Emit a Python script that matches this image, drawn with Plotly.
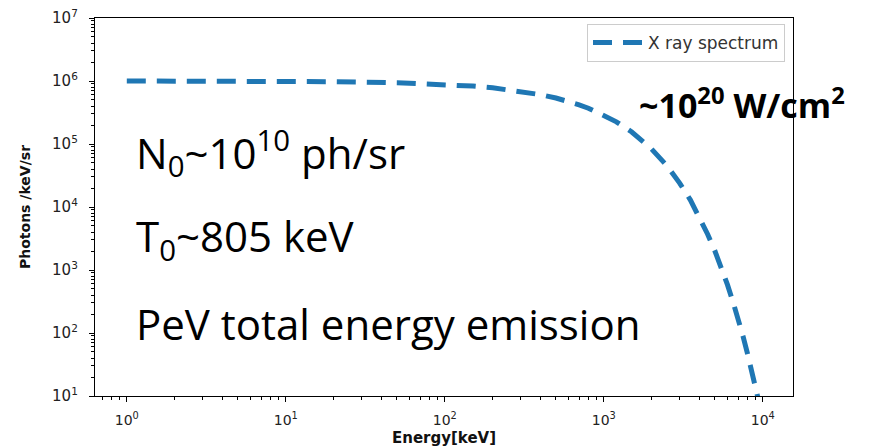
import plotly.graph_objects as go

# Data
energy_kev = [1, 2, 5, 10, 20, 50, 70, 100, 150, 200, 300, 400, 500, 600, 700, 800,
              1000, 1200, 1500, 2000, 2500, 3000, 3500, 4000, 4500, 5000, 5500,
              6000, 6500, 7000, 7500, 8000, 8500, 9000, 9300]
photons = [1.0e6, 9.98e5, 9.94e5, 9.88e5, 9.75e5, 9.4e5, 9.17e5, 8.83e5, 8.3e5,
           7.8e5, 6.89e5, 6.08e5, 5.37e5, 4.75e5, 4.19e5, 3.7e5, 2.89e5, 2.25e5,
           1.55e5, 8.3e4, 4.5e4, 2.4e4, 1.3e4, 6.9e3, 3.7e3, 2.0e3, 1.08e3,
           5.8e2, 3.1e2, 1.7e2, 90, 48, 26, 14, 9.6]

x_tickvals = [1, 10, 100, 1000, 10000]
x_ticktext = ["10<sup>0</sup>", "10<sup>1</sup>", "10<sup>2</sup>", "10<sup>3</sup>", "10<sup>4</sup>"]
y_tickvals = [10, 100, 1000, 1e4, 1e5, 1e6, 1e7]
y_ticktext = ["10<sup>1</sup>", "10<sup>2</sup>", "10<sup>3</sup>", "10<sup>4</sup>",
              "10<sup>5</sup>", "10<sup>6</sup>", "10<sup>7</sup>"]

fig = go.Figure()
fig.add_trace(go.Scatter(
    x=energy_kev, y=photons, mode="lines", name="X ray spectrum",
    line=dict(color="#1f77b4", width=5, dash="19px,11px"),
))

axis_common = dict(
    type="log", showgrid=False, zeroline=False, showline=True, linecolor="black",
    linewidth=1.3, mirror=True, ticks="outside", ticklen=5, tickcolor="black",
    automargin=False,
    minor=dict(ticks="outside", ticklen=3, tickcolor="black", dtick="D1", showgrid=False),
)

fig.update_xaxes(range=[-0.2, 4.19], tickvals=x_tickvals, ticktext=x_ticktext,
                 ticklabelstandoff=6,
                 tickfont=dict(family="DejaVu Sans", size=14, color="#222"),
                 title=dict(text="<b>Energy[keV]</b>", standoff=5,
                            font=dict(family="DejaVu Sans", size=15, color="#111")),
                 **axis_common)
fig.update_yaxes(range=[1, 7], tickvals=y_tickvals, ticktext=y_ticktext,
                 ticklabelstandoff=8,
                 tickfont=dict(family="DejaVu Sans", size=15, color="#222"),
                 title=dict(text="<b>Photons /keV/sr</b>", standoff=18,
                            font=dict(family="DejaVu Sans", size=14, color="#111")),
                 **axis_common)

big = dict(family="Open Sans", size=42, color="black")
x_left = (134 - 95) / 698
fig.add_annotation(xref="paper", yref="paper", x=x_left, y=(396 - 153) / 378,
                   xanchor="left", yanchor="middle", showarrow=False,
                   text="N<sub>0</sub>~10<sup>10</sup> ph/sr", font=big)
fig.add_annotation(xref="paper", yref="paper", x=x_left, y=(396 - 238) / 378,
                   xanchor="left", yanchor="middle", showarrow=False,
                   text="T<sub>0</sub>~805 keV", font=big)
fig.add_annotation(xref="paper", yref="paper", x=x_left, y=(396 - 323) / 378,
                   xanchor="left", yanchor="middle", showarrow=False,
                   text="PeV total energy emission", font=big)
fig.add_annotation(xref="paper", yref="paper", x=(637 - 95) / 698, y=(396 - 103) / 378,
                   xanchor="left", yanchor="middle", showarrow=False,
                   text="<b>~10<sup>20</sup> W/cm<sup>2</sup></b>",
                   font=dict(family="Open Sans", size=34, color="black"))

fig.update_layout(
    width=881, height=447,
    margin=dict(l=95, r=88, t=18, b=51),
    paper_bgcolor="white", plot_bgcolor="white",
    showlegend=True,
    legend=dict(x=(785 - 95) / 698, y=(396 - 24) / 378, xanchor="right", yanchor="top",
                bgcolor="white", bordercolor="#cccccc", borderwidth=1, itemwidth=50,
                font=dict(family="DejaVu Sans", size=17, color="#333")),
)

fig.write_html("out.html", config={"displayModeBar": False},
               post_script="document.body.style.margin='0px';")
